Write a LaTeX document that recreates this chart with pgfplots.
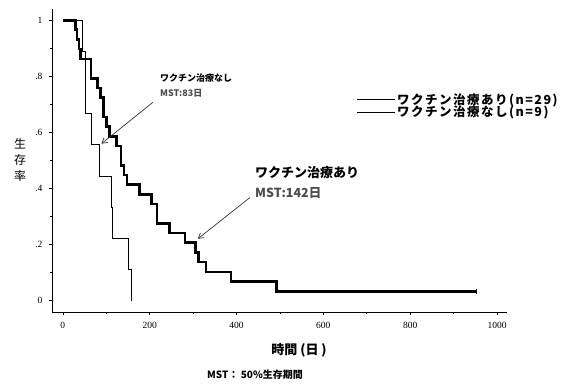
\documentclass[border=0pt]{standalone}
\usepackage{fontspec}
\setmainfont{Liberation Serif}
\newfontfamily\jp{Noto Sans CJK JP}
\newfontfamily\jpl{Noto Sans CJK JP}[LetterSpace=12]
\usepackage{pgfplots}
\pgfplotsset{compat=1.18}
\usetikzlibrary{arrows.meta}

\begin{document}
\begin{tikzpicture}
\useasboundingbox (0,0) rectangle (565pt,383pt);
\begin{axis}[
  at={(52pt,71pt)}, anchor=south west,
  scale only axis, width=455pt, height=303pt,
  xmin=-25, xmax=1023, ymin=-0.04, ymax=1.04,
  axis x line*=bottom, axis y line*=left,
  axis line style={line width=0.8pt, -},
  xtick={0,200,400,600,800,1000},
  xticklabels={0,200,400,600,800,1000},
  minor xtick={100,300,500,700,900},
  ytick={0,0.2,0.4,0.6,0.8,1},
  yticklabels={0,.2,.4,.6,.8,1},
  minor ytick={0.1,0.3,0.5,0.7,0.9},
  tick align=outside, major tick length=3pt, minor tick length=2pt,
  tick style={black, line width=0.6pt},
  ticklabel style={font=\fontsize{9.5}{10}\selectfont},
  xticklabel style={yshift=-4pt},
  yticklabel style={xshift=-3pt},
  legend style={at={(0.670,0.727)}, anchor=north west, draw=none, fill=none,
    font=\jpl\bfseries\fontsize{12.5}{13}\selectfont, row sep=-2.5pt, inner sep=0pt,
    nodes={inner sep=1.5pt}},
  legend cell align=left,
  legend image code/.code={\draw[line width=0.6pt] (0pt,0pt) -- (38pt,0pt);},
]
\addlegendimage{black}
\addlegendentry{ワクチン治療あり(n=29)}
\addlegendimage{black}
\addlegendentry{ワクチン治療なし(n=9)}

% vaccine group (n=29)
\addplot[const plot, line width=2.6pt, black, forget plot] coordinates {
(0,1) (29,0.966) (33,0.931) (37,0.897) (41,0.862) (65,0.793) (80,0.759)
(87,0.724) (93,0.655) (101,0.621) (107,0.586) (123,0.552) (134,0.483)
(141,0.448) (148,0.414) (177,0.379) (204,0.345) (217,0.276) (245,0.241)
(281,0.207) (306,0.172) (312,0.138) (330,0.103) (387,0.069) (492,0.034)
(953,0.034)
};
\addplot[only marks, mark=|, mark size=2.5pt, mark options={line width=0.6pt}, black, forget plot] coordinates {(953,0.034)};

% no vaccine group (n=9)
\addplot[const plot, line width=0.7pt, black, forget plot] coordinates {
(0,1) (45,0.889) (51,0.667) (66,0.556) (83,0.444) (112,0.333) (115,0.222)
(152,0.111) (157,0)
};

\draw[-{Straight Barb[length=5pt,width=6pt]}, gray!40!black, line width=0.7pt]
  (axis cs:207,0.707) -- (axis cs:89,0.56);
\draw[-{Straight Barb[length=5pt,width=6pt]}, gray!40!black, line width=0.7pt]
  (axis cs:431,0.368) -- (axis cs:311,0.221);
\end{axis}

\node[font=\jp\fontsize{12}{16}\selectfont, align=center] at (20pt,223pt) {生\\存\\率};
\node[anchor=west, inner sep=0pt, font=\jp\bfseries\fontsize{9}{10}\selectfont] at (160pt,305pt) {ワクチン治療なし};
\node[anchor=west, inner sep=0pt, font=\jp\bfseries\fontsize{9}{10}\selectfont, gray!60!black] at (160pt,290pt) {MST:83日};
\node[anchor=west, inner sep=0pt, font=\jp\bfseries\fontsize{13}{14}\selectfont] at (255pt,210pt) {ワクチン治療あり};
\node[anchor=west, inner sep=0pt, font=\jp\bfseries\fontsize{12.5}{14}\selectfont, gray!60!black] at (255pt,190pt) {MST:142日};
\node[inner sep=0pt, font=\jp\bfseries\fontsize{13}{14}\selectfont] at (299pt,33pt) {時間 (日 )};
\node[anchor=west, inner sep=0pt, font=\jp\bfseries\fontsize{10}{12}\selectfont] at (207pt,8pt) {MST： 50\%生存期間};
\end{tikzpicture}
\end{document}
